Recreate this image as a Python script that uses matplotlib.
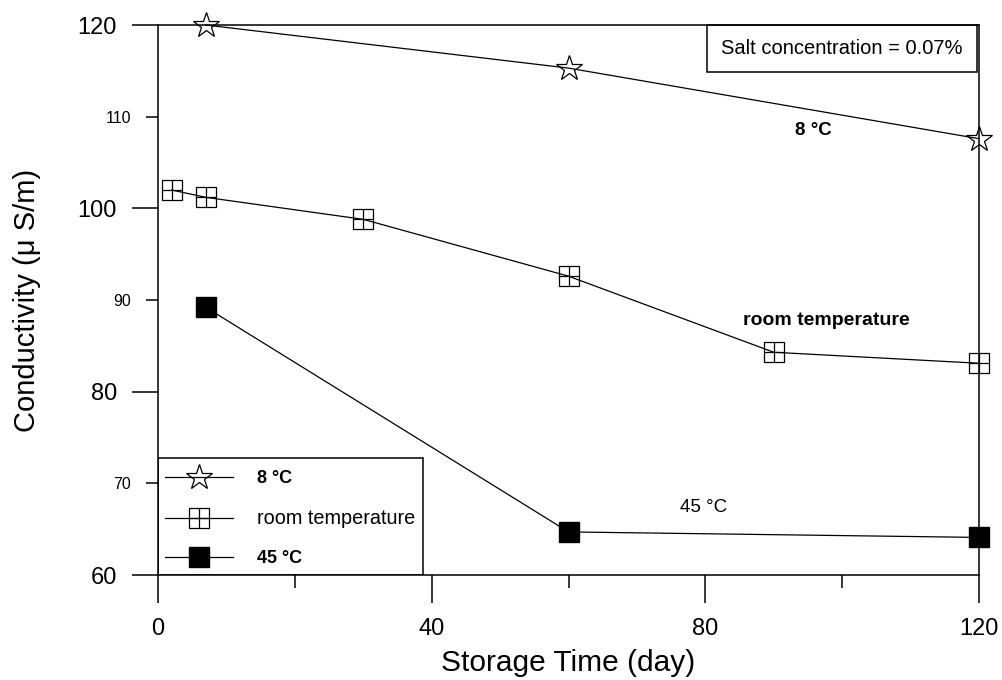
import matplotlib
matplotlib.use("Agg")
import matplotlib.pyplot as plt
from matplotlib.lines import Line2D
from matplotlib.patches import Rectangle
from matplotlib.ticker import FixedLocator, FixedFormatter, NullFormatter

plt.rcParams['font.family'] = ['Liberation Sans', 'DejaVu Sans']

# data
days_8c = [7, 60, 120]
cond_8c = [120.0, 115.3, 107.6]

days_room = [2, 7, 30, 60, 90, 120]
cond_room = [102.0, 101.2, 98.8, 92.6, 84.3, 83.1]

days_45c = [7, 60, 120]
cond_45c = [89.2, 64.7, 64.1]

series_names = ['8 \u00b0C', 'room temperature', '45 \u00b0C']

x_major = [0, 40, 80, 120]
x_minor = [20, 60, 100]
y_major = [60, 80, 100, 120]
y_minor = [70, 90, 110]

LW = 0.9
fig = plt.figure(figsize=(10.02, 6.8), dpi=100)
ax = fig.add_axes([0.1577, 0.1544, 0.8194, 0.8088])

# 8 C - open stars
ax.plot(days_8c, cond_8c, color='black', lw=LW, marker='*', ms=19,
        mfc='none', mec='black', mew=0.9, clip_on=False, zorder=5)

# room temperature - open squares with a cross
ax.plot(days_room, cond_room, color='black', lw=LW, marker='s', ms=15,
        mfc='none', mec='black', mew=0.9, clip_on=False, zorder=5)
ax.plot(days_room, cond_room, ls='none', marker='+', ms=15,
        color='black', mew=0.9, clip_on=False, zorder=5)

# 45 C - filled squares
ax.plot(days_45c, cond_45c, color='black', lw=LW, marker='s', ms=15,
        mfc='black', mec='black', clip_on=False, zorder=5)

ax.set_xlim(0, 120)
ax.set_ylim(60, 120)

ax.xaxis.set_major_locator(FixedLocator(x_major))
ax.xaxis.set_minor_locator(FixedLocator(x_minor))
ax.xaxis.set_minor_formatter(NullFormatter())
ax.yaxis.set_major_locator(FixedLocator(y_major))
ax.yaxis.set_minor_locator(FixedLocator(y_minor))
ax.yaxis.set_minor_formatter(FixedFormatter([str(v) for v in y_minor]))

for s in ax.spines.values():
    s.set_linewidth(1.1)

ax.tick_params(axis='x', which='major', direction='out', length=20, width=1.1,
               pad=11, labelsize=17)
ax.tick_params(axis='x', which='minor', direction='out', length=9.5, width=1.1)
ax.tick_params(axis='y', which='major', direction='out', length=19, width=1.1,
               pad=10.5, labelsize=17)
ax.tick_params(axis='y', which='minor', direction='out', length=9, width=1.1,
               pad=10.5, labelsize=11.5)

ax.set_xlabel('Storage Time (day)', fontsize=21.5)
ax.set_ylabel('Conductivity (\u03bc S/m)', fontsize=21)
ax.xaxis.set_label_coords(0.5, -0.135)
ax.yaxis.set_label_coords(-0.1425, 0.5)

# labels next to the curves
ax.text(95.8, 108.5, series_names[0], fontsize=13.5, fontweight='bold',
        ha='center', va='center')
ax.text(97.7, 87.8, series_names[1], fontsize=14, fontweight='bold',
        ha='center', va='center')
ax.text(79.7, 67.4, series_names[2], fontsize=13.5,
        ha='center', va='center')

# salt concentration box
ax.add_patch(Rectangle((0.669, 0.914), 0.3286, 0.086, transform=ax.transAxes,
                       fill=False, lw=1.1, ec='black', clip_on=False))
ax.text(0.833, 0.957, 'Salt concentration = 0.07%', transform=ax.transAxes,
        fontsize=14.5, ha='center', va='center')

# legend
h1 = Line2D([], [], color='black', lw=LW, marker='*', ms=19, mfc='none',
            mec='black', mew=0.9)
h2 = (Line2D([], [], color='black', lw=LW, marker='s', ms=15, mfc='none',
             mec='black', mew=0.9),
      Line2D([], [], ls='none', marker='+', ms=15, color='black', mew=0.9))
h3 = Line2D([], [], color='black', lw=LW, marker='s', ms=15, mfc='black')

ax.add_patch(Rectangle((0, 0), 0.323, 0.213, transform=ax.transAxes,
                       fill=False, lw=1.1, ec='black', zorder=6))
leg = ax.legend([h1, h2, h3], series_names, loc='upper left',
                bbox_to_anchor=(0.0085, 0.191), borderaxespad=0, borderpad=0,
                frameon=False, fontsize=12, numpoints=1, handlelength=4.1,
                handletextpad=1.45, labelspacing=1.33)
txts = leg.get_texts()
txts[0].set_fontweight('bold')
txts[0].set_fontsize(13)
txts[1].set_fontsize(14.3)
txts[2].set_fontweight('bold')
txts[2].set_fontsize(13)

fig.savefig('out.png', dpi=100)
